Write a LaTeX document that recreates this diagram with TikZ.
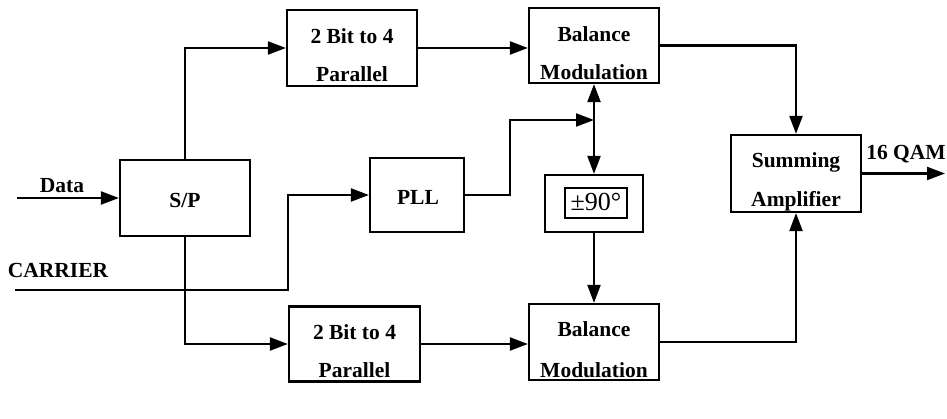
\documentclass[tikz,border=0pt]{standalone}
\usepackage{fontspec}
\setmainfont{Liberation Serif}
\usetikzlibrary{arrows.meta}
\begin{document}
\begin{tikzpicture}[x=1pt,y=-1pt,
  blk/.style={draw, line width=2.2pt, inner sep=0pt, minimum width=130pt, minimum height=76pt},
  txt/.style={font=\fontsize{21.5pt}{25pt}\selectfont\bfseries, anchor=base, inner sep=0pt},
  con/.style={line width=2.2pt},
  arr/.style={con, -{Triangle[length=18pt,width=13pt]}},
  darr/.style={con, {Triangle[length=18pt,width=13pt]}-{Triangle[length=18pt,width=13pt]}}]
\useasboundingbox (0,0) rectangle (947,419);
% boxes
\node[blk] (sp) at (185,198) {};
\node[blk] (tb) at (352,48) {};
\node[blk, minimum height=75pt] (bmt) at (594,45.5) {};
\node[blk, minimum width=94pt, minimum height=74pt] (pll) at (417,195) {};
\node[blk, minimum width=98pt, minimum height=57pt] (ph) at (594,203.5) {};
\node[draw, line width=1.8pt, minimum width=62pt, minimum height=30pt, inner sep=0pt] (phin) at (596,203) {};
\node[blk, minimum width=131pt, minimum height=75pt] (bb) at (354.5,344) {};
\node[blk] (bmb) at (594,342) {};
\node[blk, minimum height=77pt] (sum) at (796,173.5) {};
% texts
\node[txt] (spt) at (185,208) {S/P};
\node[txt] (tb1) at (352,44) {2 Bit to 4};
\node[txt] (tb2) at (352,82) {Parallel};
\node[txt] (bmt1) at (594,42) {Balance};
\node[txt] (bmt2) at (594,80) {Modulation};
\node[txt] (pllt) at (418,205) {PLL};
\node[anchor=base, inner sep=0pt, font=\fontsize{26pt}{30pt}\selectfont] (pht) at (596,211) {±90°};
\node[txt] (bb1) at (354.5,340) {2 Bit to 4};
\node[txt] (bb2) at (354.5,377) {Parallel};
\node[txt] (bmb1) at (594,337) {Balance};
\node[txt] (bmb2) at (594,377) {Modulation};
\node[txt] (sum1) at (796,168) {Summing};
\node[txt] (sum2) at (796,207) {Amplifier};
\node[txt] (datat) at (62,193) {Data};
\node[txt] (carrt) at (58,278) {CARRIER};
\node[txt] (qamt) at (906,160) {16 QAM};
% coordinates
\coordinate (din) at (17,198);
\coordinate (cin) at (15,290);
\coordinate (c1) at (288,290);
\coordinate (k) at (510,120);
\coordinate (j) at (594,120);
\coordinate (qout) at (945,173.5);
% connectors
\draw[arr] (din) -- (sp.west);
\draw[arr] (sp.north) |- (tb.west);
\draw[arr] (tb.east) -- (tb.east -| bmt.west);
\draw[arr] (sp.south) |- (bb.west);
\draw[arr] (bb.east) -- (bb.east -| bmb.west);
\draw[arr] (cin) -- (c1) |- (pll.west);
\draw[arr] (pll.east) -| (k) -- (j);
\draw[darr] (bmt.south) -- (ph.north);
\draw[arr] (ph.south) -- (bmb.north);
\draw[arr] (bmt.east) -| (sum.north);
\draw[arr] (bmb.east) -| (sum.south);
\draw[arr] (sum.east) -- (qout);
\end{tikzpicture}
\end{document}
